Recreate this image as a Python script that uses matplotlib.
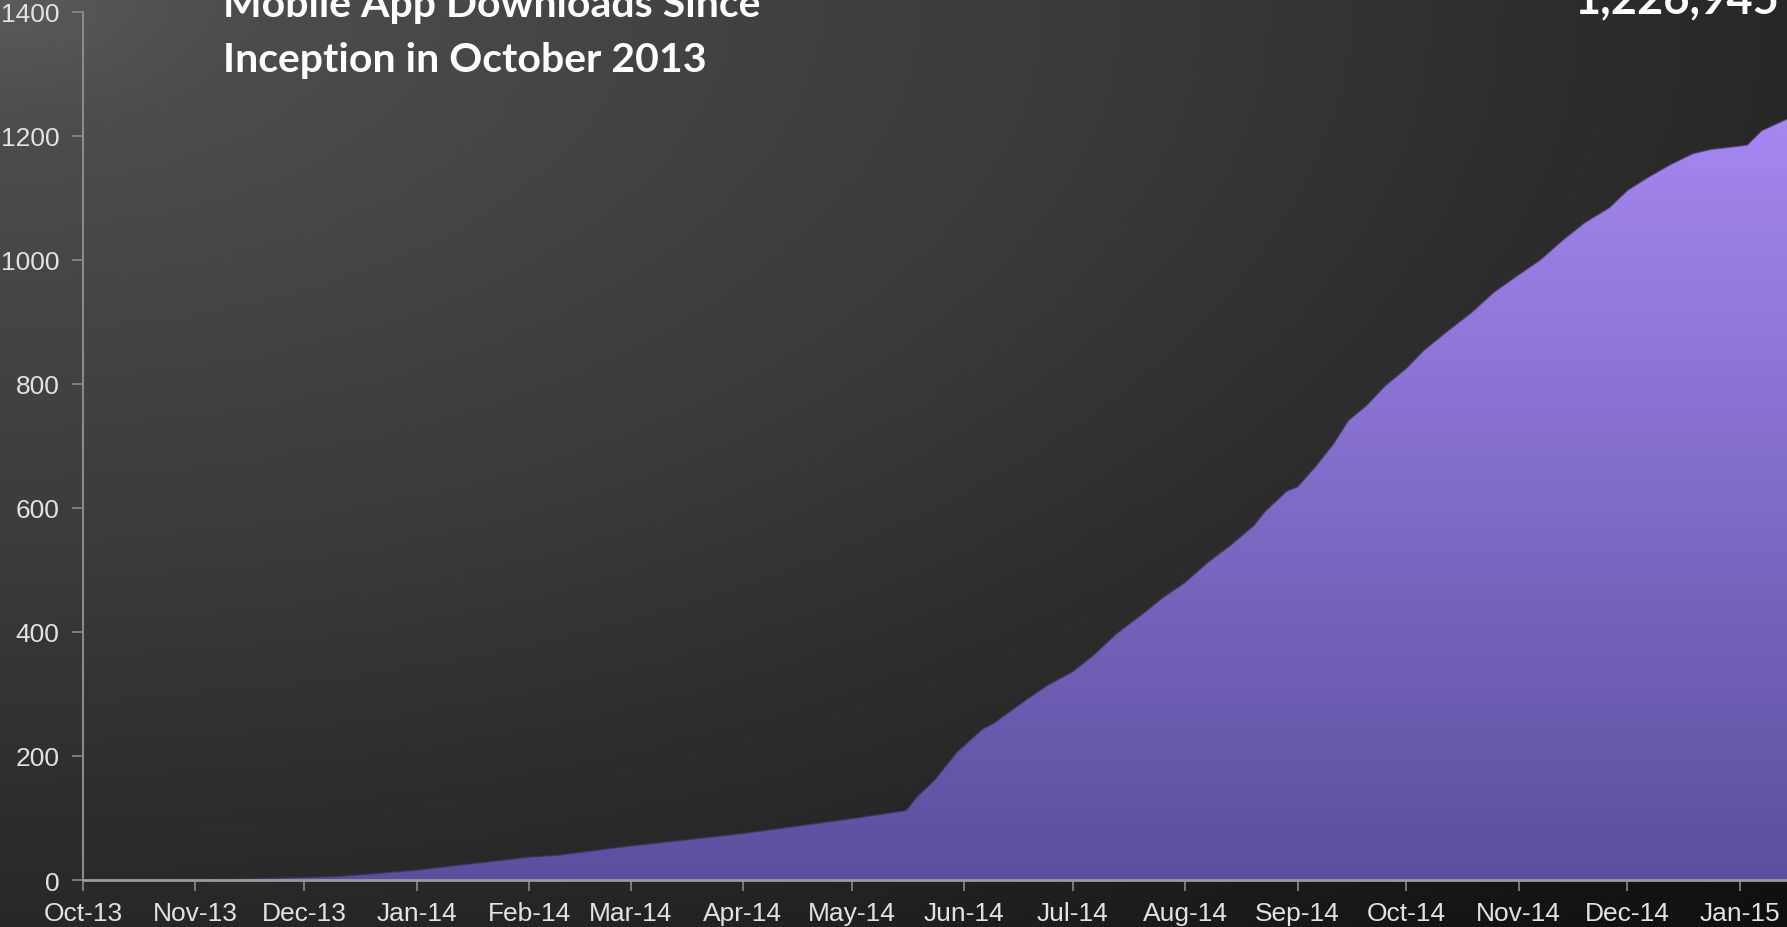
import numpy as np
import pandas as pd
import matplotlib.pyplot as plt
import matplotlib.dates as mdates
from matplotlib.colors import LinearSegmentedColormap
from matplotlib.patches import Polygon

# cumulative downloads, thousands
dates = pd.to_datetime([
    "2013-10-01", "2013-11-03", "2013-12-01", "2013-12-11", "2014-01-01",
    "2014-02-01", "2014-02-09", "2014-03-01", "2014-04-01", "2014-05-01",
    "2014-05-16", "2014-05-19", "2014-05-24", "2014-05-30", "2014-06-06",
    "2014-06-09", "2014-06-18", "2014-06-24", "2014-07-01", "2014-07-07",
    "2014-07-13", "2014-07-20", "2014-07-26", "2014-08-01", "2014-08-07",
    "2014-08-14", "2014-08-20", "2014-08-23", "2014-08-29", "2014-09-01",
    "2014-09-06", "2014-09-11", "2014-09-15", "2014-09-20", "2014-09-25",
    "2014-10-01", "2014-10-06", "2014-10-13", "2014-10-19", "2014-10-25",
    "2014-11-01", "2014-11-07", "2014-11-13", "2014-11-19", "2014-11-26",
    "2014-12-01", "2014-12-07", "2014-12-13", "2014-12-19", "2014-12-24",
    "2014-12-30", "2015-01-03", "2015-01-07", "2015-01-14",
])
downloads = [
    0, 0, 4, 6, 16,
    37, 40, 55, 75, 99,
    112, 134, 162, 206, 243,
    252, 290, 314, 336, 364,
    397, 428, 456, 480, 511,
    542, 572, 594, 627, 634,
    667, 704, 741, 765, 796,
    825, 855, 888, 915, 947,
    976, 1000, 1031, 1059, 1084,
    1112, 1134, 1154, 1171, 1178,
    1182, 1185, 1208, 1227,
]
y_ticks = [0, 200, 400, 600, 800, 1000, 1200, 1400]
title_lines = ["Mobile App Downloads Since", "Inception in October 2013"]
total_label = "1,226,945"

fig = plt.figure(figsize=(17.87, 9.28), dpi=100)

# dark backdrop, lighter towards the top-left corner
bg = fig.add_axes([0, 0, 1, 1], zorder=0)
gx, gy = np.meshgrid(np.linspace(0, 1, 400), np.linspace(0, 1, 200))
r = np.sqrt(gx ** 2 + gy ** 2) / np.sqrt(2)
bg_cmap = LinearSegmentedColormap.from_list("bg", [
    (0.0, "#5a5a5a"), (0.1, "#4c4c4c"), (0.4, "#3c3c3c"), (0.55, "#323232"),
    (0.7, "#282828"), (0.92, "#141414"), (1.0, "#101010")])
bg.imshow(r, cmap=bg_cmap, aspect="auto", extent=[0, 1, 1, 0], vmin=0, vmax=1)
bg.set_axis_off()

ax = fig.add_axes([0.0465, 0.0506, 0.9535, 0.9359], zorder=1)
ax.set_facecolor("none")

x = mdates.date2num(dates)
y = np.array(downloads, dtype=float)

# purple area with vertical gradient, clipped to the curve
fill_cmap = LinearSegmentedColormap.from_list("fill", ["#5b4f9e", "#a587f0"])
grad = np.linspace(0, 1, 256).reshape(-1, 1)
im = ax.imshow(grad, cmap=fill_cmap, aspect="auto", origin="lower",
               extent=[x[0], x[-1], 0, y.max()], zorder=2)
verts = np.vstack([np.column_stack([x, y]), [[x[-1], 0], [x[0], 0]]])
clip = Polygon(verts, closed=True, facecolor="none", edgecolor="none",
               transform=ax.transData)
ax.add_patch(clip)
im.set_clip_path(clip)
ax.plot(x, y, color="#3a3458", lw=1.2, alpha=0.6, zorder=3)

ax.set_xlim(mdates.date2num(pd.Timestamp("2013-10-01")),
            mdates.date2num(pd.Timestamp("2015-01-14")))
ax.set_ylim(0, 1400)
ax.set_yticks(y_ticks)

ax.xaxis.set_major_locator(mdates.MonthLocator())
ax.xaxis.set_major_formatter(mdates.DateFormatter("%b-%y"))

for side in ["top", "right"]:
    ax.spines[side].set_visible(False)
ax.spines["left"].set_color("#8a8a8a")
ax.spines["bottom"].set_color("#9a9a9a")
ax.spines["left"].set_linewidth(1.5)
ax.spines["bottom"].set_linewidth(2)
ax.spines["bottom"].set_zorder(4)

ax.tick_params(axis="both", colors="#8a8a8a", length=8, width=1.2,
               labelcolor="#e2e2e2", labelsize=19)
ax.tick_params(axis="x", pad=7)
ax.tick_params(axis="y", pad=9)
for lab in ax.get_xticklabels() + ax.get_yticklabels():
    lab.set_family("Liberation Sans")

fig.text(223 / 1787, 1 - 17 / 928, title_lines[0],
         fontsize=29.5, fontweight="bold", color="white", family="Lato",
         va="baseline", ha="left", zorder=5)
fig.text(223 / 1787, 1 - 72 / 928, title_lines[1],
         fontsize=29.5, fontweight="bold", color="white", family="Lato",
         va="baseline", ha="left", zorder=5)
fig.text(1779 / 1787, 1 - 13 / 928, total_label,
         fontsize=32.5, fontweight="bold", color="white", family="Lato",
         va="baseline", ha="right", zorder=5)

fig.savefig("out.png", dpi=100)
